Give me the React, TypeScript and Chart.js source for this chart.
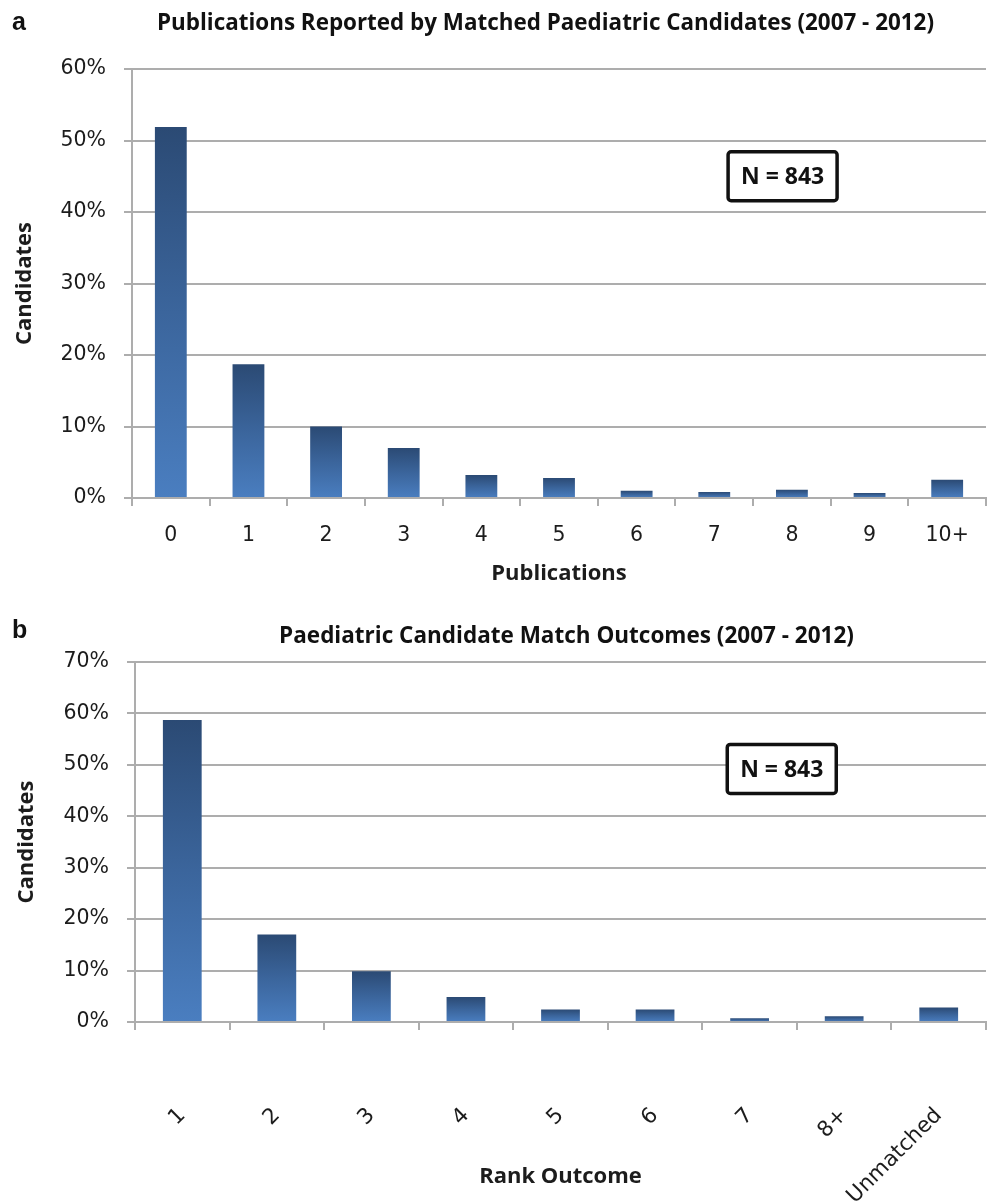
import React, { useEffect, useRef } from "react";
import { Chart, registerables } from "chart.js";

Chart.register(...registerables);

// ---- Data ----
const publicationCategories = ["0", "1", "2", "3", "4", "5", "6", "7", "8", "9", "10+"];
const publicationShares = [51.9, 18.7, 10.0, 7.0, 3.2, 2.8, 1.0, 0.85, 1.15, 0.7, 2.55];
const publicationAxisMax = 60;

const rankCategories = ["1", "2", "3", "4", "5", "6", "7", "8+", "Unmatched"];
const rankShares = [58.7, 17.0, 9.85, 4.85, 2.45, 2.45, 0.75, 1.1, 2.8];
const rankAxisMax = 70;

const tickStep = 10;
const sampleSizeText = "N = 843";

// ---- Styles ----
const GRID = "#adadad";
const TEXT = "#1c1c1c";
const BAR_TOP = "#2b4a74";
const BAR_MID = "#3b659c";
const BAR_BOTTOM = "#4a7ec0";

const decorPlugin = {
  id: "panelDecor",
  afterDraw(chart: any, _args: any, opts: any) {
    const c = chart.ctx;
    c.save();
    c.fillStyle = "#111";
    c.textBaseline = "alphabetic";
    // panel letter
    c.font = 'bold 25px "Liberation Sans"';
    c.textAlign = "left";
    c.fillText(opts.letter, opts.letterX, opts.letterY);
    // title
    c.font = 'bold 22.5px "Open Sans"';
    c.textAlign = "center";
    c.fillText(opts.title, opts.titleX, opts.titleY, opts.titleWidth);
    // N box
    const xs = chart.scales.x;
    const ys = chart.scales.y;
    const cx = xs.getPixelForValue(opts.boxIndex);
    const cy = ys.getPixelForValue(opts.boxValue);
    const w = 109;
    const h = 49;
    c.lineWidth = 3.5;
    c.strokeStyle = "#111";
    c.fillStyle = "#fff";
    c.beginPath();
    (c as any).roundRect(cx - w / 2, cy - h / 2, w, h, 3);
    c.fill();
    c.stroke();
    c.fillStyle = "#111";
    c.font = 'bold 23px "Open Sans"';
    c.textAlign = "center";
    c.textBaseline = "middle";
    c.fillText(sampleSizeText, cx, cy + 1);
    c.restore();
  },
};

function barGradient(ctx: any) {
  const chart = ctx.chart;
  if (!chart.chartArea || ctx.type !== "data") return BAR_MID;
  const ys = chart.scales.y;
  const v = ctx.parsed ? ctx.parsed.y : ctx.raw;
  const top = ys.getPixelForValue(v);
  const base = ys.getPixelForValue(0);
  if (!isFinite(top) || !isFinite(base) || base - top < 1) return BAR_MID;
  const g = chart.ctx.createLinearGradient(0, top, 0, base);
  g.addColorStop(0, BAR_TOP);
  g.addColorStop(0.5, BAR_MID);
  g.addColorStop(1, BAR_BOTTOM);
  return g;
}

interface PanelSpec {
  labels: string[];
  values: number[];
  yMax: number;
  xTitle: string;
  padTop: number;
  yWidth: number;
  xHeight: number;
  yTitlePad: number;
  xTitlePad: number;
  rotate: boolean;
  xTickPad: number;
  xTickSize: number;
  decor: any;
}

function makeConfig(p: PanelSpec): any {
  return {
    type: "bar",
    data: {
      labels: p.labels,
      datasets: [
        {
          data: p.values,
          backgroundColor: barGradient,
          borderWidth: 0,
          barPercentage: 0.41,
          categoryPercentage: 1.0,
        },
      ],
    },
    plugins: [decorPlugin],
    options: {
      responsive: false,
      animation: false,
      devicePixelRatio: 1,
      layout: { padding: { top: p.padTop, left: 0, right: 1, bottom: 0 } },
      plugins: {
        legend: { display: false },
        tooltip: { enabled: false },
        title: { display: false },
        panelDecor: p.decor,
      },
      scales: {
        x: {
          type: "category",
          offset: true,
          afterFit: (s: any) => {
            s.height = p.xHeight;
            s.paddingLeft = 0;
            s.paddingRight = 0;
          },
          grid: {
            offset: true,
            drawOnChartArea: false,
            drawTicks: true,
            tickLength: 8,
            color: GRID,
            lineWidth: 2,
          },
          border: { display: true, color: GRID, width: 2 },
          ticks: {
            color: TEXT,
            font: { family: "DejaVu Sans", size: p.xTickSize },
            padding: p.xTickPad,
            autoSkip: false,
            minRotation: p.rotate ? 45 : 0,
            maxRotation: p.rotate ? 45 : 0,
          },
          title: {
            display: true,
            text: p.xTitle,
            color: TEXT,
            font: { family: "Open Sans", weight: "bold", size: 22 },
            padding: { top: 0, bottom: p.xTitlePad },
          },
        },
        y: {
          min: 0,
          max: p.yMax,
          afterFit: (s: any) => {
            s.width = p.yWidth;
            s.paddingTop = 0;
            s.paddingBottom = 0;
          },
          grid: {
            drawTicks: true,
            tickLength: 8,
            color: GRID,
            lineWidth: 2,
          },
          border: { display: true, color: GRID, width: 2 },
          ticks: {
            stepSize: tickStep,
            color: TEXT,
            padding: 18,
            font: { family: "DejaVu Sans", size: 20.5 },
            callback: (v: any) => `${v}%`,
          },
          title: {
            display: true,
            text: "Candidates",
            color: TEXT,
            font: { family: "Open Sans", weight: "bold", size: 22 },
            padding: { top: p.yTitlePad, bottom: 0 },
          },
        },
      },
    },
  };
}

function Panel({ spec, top, height }: { spec: PanelSpec; top: number; height: number }) {
  const ref = useRef<HTMLCanvasElement>(null);
  useEffect(() => {
    if (!ref.current) return;
    const chart = new Chart(ref.current, makeConfig(spec));
    return () => chart.destroy();
  }, []);
  return (
    <canvas
      ref={ref}
      width={987}
      height={height}
      style={{ position: "absolute", left: 0, top, width: 987, height, display: "block" }}
    />
  );
}

const panelA: PanelSpec = {
  labels: publicationCategories,
  values: publicationShares,
  yMax: publicationAxisMax,
  xTitle: "Publications",
  padTop: 69,
  yWidth: 132,
  xHeight: 102,
  yTitlePad: 12,
  xTitlePad: 13,
  rotate: false,
  xTickPad: 17,
  xTickSize: 20.5,
  decor: {
    letter: "a",
    letterX: 12,
    letterY: 30,
    title: "Publications Reported by Matched Paediatric Candidates (2007 - 2012)",
    titleX: 545.5,
    titleY: 30,
    titleWidth: 777,
    boxIndex: 7.88,
    boxValue: 45,
  },
};

const panelB: PanelSpec = {
  labels: rankCategories,
  values: rankShares,
  yMax: rankAxisMax,
  xTitle: "Rank Outcome",
  padTop: 62,
  yWidth: 135,
  xHeight: 182,
  yTitlePad: 14,
  xTitlePad: 14,
  rotate: true,
  xTickPad: 73,
  xTickSize: 21.5,
  decor: {
    letter: "b",
    letterX: 12,
    letterY: 38,
    title: "Paediatric Candidate Match Outcomes (2007 - 2012)",
    titleX: 566.5,
    titleY: 43,
    titleWidth: 575,
    boxIndex: 6.34,
    boxValue: 49.2,
  },
};

export default function App() {
  return (
    <div
      style={{
        position: "absolute",
        left: 0,
        top: 0,
        width: 987,
        height: 1204,
        background: "#fff",
        overflow: "hidden",
      }}
    >
      <Panel spec={panelA} top={0} height={600} />
      <Panel spec={panelB} top={600} height={604} />
    </div>
  );
}
